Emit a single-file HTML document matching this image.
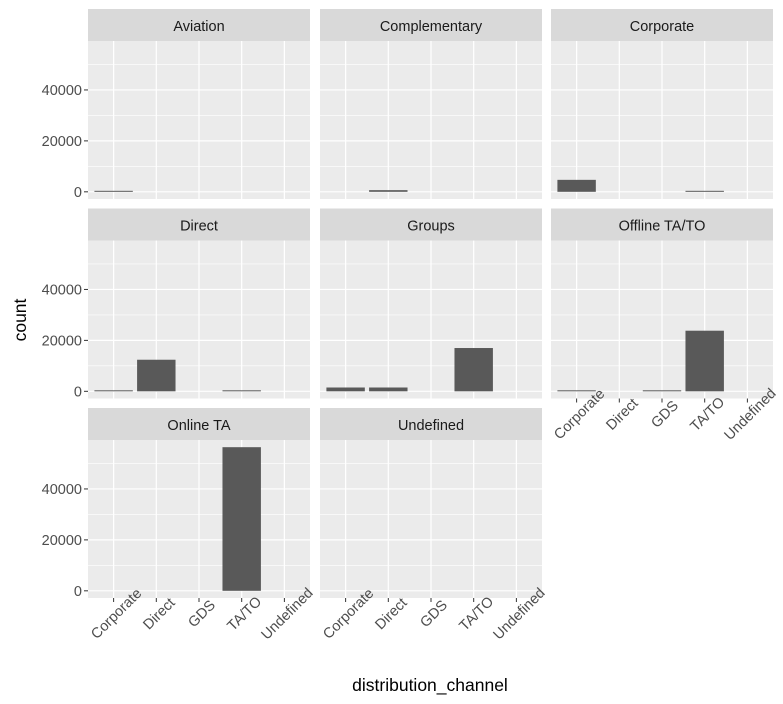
<!DOCTYPE html>
<html><head><meta charset="utf-8"><style>
html,body{margin:0;padding:0;background:#fff;}
svg{display:block;font-family:"Liberation Sans",Arial,sans-serif;}
</style></head><body>
<svg id="chart" width="783" height="704"></svg>
<script>
const facets = ["Aviation","Complementary","Corporate","Direct","Groups","Offline TA/TO","Online TA","Undefined"];
const categories = ["Corporate","Direct","GDS","TA/TO","Undefined"];
const countsAviation = [227,0,0,0,0];
const countsComplementary = [0,650,0,0,0];
const countsCorporate = [4700,0,0,300,0];
const countsDirect = [100,12400,0,250,0];
const countsGroups = [1500,1500,0,17000,0];
const countsOffline = [200,0,150,23800,0];
const countsOnline = [0,0,0,56400,0];
const countsUndefined = [0,0,0,0,2];
const series = [countsAviation,countsComplementary,countsCorporate,countsDirect,countsGroups,countsOffline,countsOnline,countsUndefined];
const yTicks = [0,20000,40000];
const yMinor = [10000,30000,50000];

const NS="http://www.w3.org/2000/svg";
const svg=document.getElementById('chart');
function mk(tag,attrs,parent){const e=document.createElementNS(NS,tag);for(const k in attrs)e.setAttribute(k,attrs[k]);(parent||svg).appendChild(e);return e;}
const colX=[88,320,551], pw=222;
const stripTop=[9,208.5,408], ph=158, sh=32;
const yMaxData=Math.max(...series.flat());
const yLo=-0.05*yMaxData, yHi=yMaxData*1.05;
function yScale(v,top){return top+ph-(v-yLo)/(yHi-yLo)*ph;}
const unit=pw/5.2;
function xScale(i,left){return left+(0.6+i)*unit;}

facets.forEach((f,k)=>{
  const col=k%3,row=Math.floor(k/3);
  const left=colX[col], sTop=stripTop[row], top=sTop+sh;
  const g=mk('g',{});
  
  
  const strip=mk('rect',{x:left,y:sTop,width:pw,height:sh,fill:'#d9d9d9'},g);
  
  
  const st=mk('text',{x:left+pw/2,y:sTop+sh/2+6,'text-anchor':'middle','font-size':'14.5','fill':'#1a1a1a'},g);
  st.textContent=f;
  
  
  mk('rect',{x:left,y:top,width:pw,height:ph,fill:'#ebebeb'},g);
  yMinor.forEach(v=>{const y=yScale(v,top);if(y>top)mk('line',{x1:left,x2:left+pw,y1:y,y2:y,stroke:'#fff','stroke-width':0.6},g);});
  yTicks.forEach(v=>{const y=yScale(v,top);mk('line',{x1:left,x2:left+pw,y1:y,y2:y,stroke:'#fff','stroke-width':1.2},g);});
  categories.forEach((c,i)=>{const x=xScale(i,left);mk('line',{x1:x,x2:x,y1:top,y2:top+ph,stroke:'#fff','stroke-width':1.2},g);});
  series[k].forEach((v,i)=>{
    if(v<=0)return;
    const x=xScale(i,left), y0=yScale(0,top), y1=yScale(v,top);
    const h=v>=50?Math.max(y0-y1,1):(y0-y1);
    const b=mk('rect',{x:x-0.45*unit,y:y0-h,width:0.9*unit,height:h,fill:'#595959'},g);
    
    
  });
  if(col===0){
    yTicks.forEach(v=>{const y=yScale(v,top);
      mk('line',{x1:left-4,x2:left,y1:y,y2:y,stroke:'#333','stroke-width':1},g);
      const t=mk('text',{x:left-6,y:y+5,'text-anchor':'end','font-size':'14.5','fill':'#4d4d4d'},g);
      t.textContent=v;
      
      });
  }
  if(row===2||k===5){
    categories.forEach((c,i)=>{const x=xScale(i,left),yb=top+ph;
      mk('line',{x1:x,x2:x,y1:yb,y2:yb+4,stroke:'#333','stroke-width':1},g);
      const t=mk('text',{x:x+6,y:yb+19,'text-anchor':'middle','font-size':'14.5','fill':'#4d4d4d',transform:`rotate(-45 ${x+6} ${yb+19})`},g);
      t.textContent=c;
      
      });
  }
});
const yt=mk('text',{x:26,y:320,'text-anchor':'middle','font-size':'17.5','fill':'#000',transform:'rotate(-90 26 320)'});
yt.textContent='count';


const xt=mk('text',{x:430,y:691,'text-anchor':'middle','font-size':'17.5','fill':'#000'});
xt.textContent='distribution_channel';


</script>
</body></html>
